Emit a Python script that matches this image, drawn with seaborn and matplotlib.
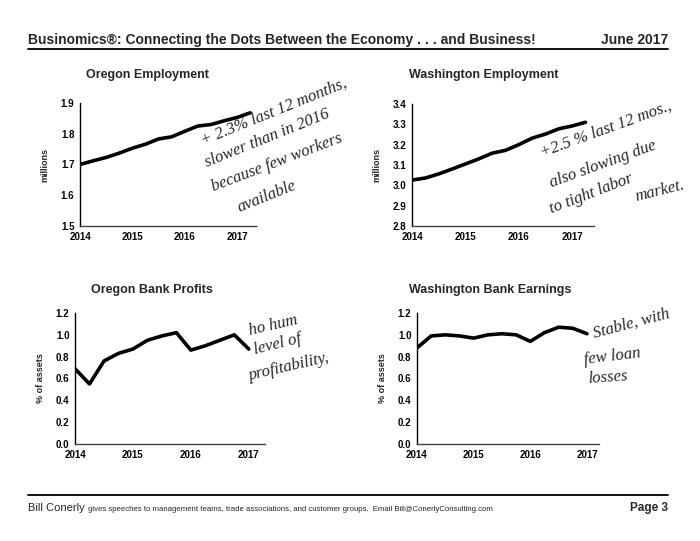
import matplotlib
matplotlib.use("Agg")
import matplotlib.pyplot as plt
from matplotlib.lines import Line2D
import seaborn as sns
import pandas as pd

# Quarterly points (year fractions)
emp_years = [2014.0, 2014.25, 2014.5, 2014.75, 2015.0, 2015.25, 2015.5,
             2015.75, 2016.0, 2016.25, 2016.5, 2016.75, 2017.0, 2017.25]
oregon_emp = [1.700, 1.712, 1.723, 1.737, 1.753, 1.766, 1.783,
              1.790, 1.808, 1.825, 1.830, 1.842, 1.853, 1.868]
washington_emp = [3.026, 3.036, 3.056, 3.080, 3.105, 3.130, 3.158,
                  3.172, 3.200, 3.232, 3.252, 3.278, 3.292, 3.310]

bank_years = [2014.0, 2014.25, 2014.5, 2014.75, 2015.0, 2015.25, 2015.5,
              2015.75, 2016.0, 2016.25, 2016.5, 2016.75, 2017.0]
oregon_bank = [0.69, 0.55, 0.76, 0.83, 0.87, 0.95, 0.99,
               1.02, 0.86, 0.90, 0.95, 1.00, 0.87]
washington_bank = [0.88, 0.99, 1.00, 0.99, 0.97, 1.00, 1.01,
                   1.00, 0.94, 1.02, 1.07, 1.06, 1.01]

year_ticks = [2014, 2015, 2016, 2017]

W, H = 700, 541
sns.set_style("white")
plt.rcParams["font.family"] = ["Liberation Sans", "DejaVu Sans"]

fig = plt.figure(figsize=(W / 100, H / 100), dpi=100)


def px_axes(left, right, top, bottom):
    return fig.add_axes([left / W, 1 - bottom / H, (right - left) / W, (bottom - top) / H])


def panel(ax, x, y, ylim, yticks, xmax, ylabel):
    df = pd.DataFrame({"x": x, "y": y})
    sns.lineplot(data=df, x="x", y="y", ax=ax, color="black", linewidth=2.6)
    ax.set_xlim(2014, xmax)
    ax.set_ylim(*ylim)
    ax.set_xticks(year_ticks)
    ax.set_xticklabels([str(t) for t in year_ticks])
    ax.set_yticks(yticks)
    ax.set_yticklabels(["{:.1f}".format(t) for t in yticks])
    ax.set_xlabel("")
    ax.set_ylabel(ylabel, fontsize=6.5, fontweight="bold", labelpad=8)
    for s in ["top", "right"]:
        ax.spines[s].set_visible(False)
    ax.spines["left"].set_color("black")
    ax.spines["left"].set_linewidth(1.0)
    ax.spines["bottom"].set_color("#444444")
    ax.spines["bottom"].set_linewidth(1.0)
    ax.spines["bottom"].set_linestyle((0, (1, 1)))
    ax.tick_params(axis="both", direction="inout", length=5, width=1,
                   labelsize=7, pad=1.5, colors="black")
    for lab in ax.get_xticklabels() + ax.get_yticklabels():
        lab.set_fontweight("bold")
    ax.set_facecolor("none")


ax1 = px_axes(80, 257, 103, 226)
panel(ax1, emp_years, oregon_emp, (1.5, 1.9), [1.5, 1.6, 1.7, 1.8, 1.9], 2017.38, "millions")
ax2 = px_axes(412, 594, 104, 226)
panel(ax2, emp_years, washington_emp, (2.8, 3.4), [2.8, 2.9, 3.0, 3.1, 3.2, 3.3, 3.4], 2017.41, "millions")
ax3 = px_axes(75, 265, 313, 444)
panel(ax3, bank_years, oregon_bank, (0, 1.2), [0, 0.2, 0.4, 0.6, 0.8, 1.0, 1.2], 2017.28, "% of assets")
ax4 = px_axes(417, 600, 313, 444)
panel(ax4, bank_years, washington_bank, (0, 1.2), [0, 0.2, 0.4, 0.6, 0.8, 1.0, 1.2], 2017.23, "% of assets")

# panel titles
for txt, cx, cy in [("Oregon Employment", 147, 75), ("Washington Employment", 484, 75),
                    ("Oregon Bank Profits", 152, 290), ("Washington Bank Earnings", 490, 290)]:
    fig.text(cx / W, 1 - cy / H, txt, ha="center", va="center", fontsize=9, fontweight="bold")

# header and footer
fig.text(28 / W, 1 - 44 / H, "Businomics\u00ae: Connecting the Dots Between the Economy . . . and Business!",
         fontsize=10, fontweight="bold", ha="left", va="baseline")
fig.text(668 / W, 1 - 44 / H, "June 2017", fontsize=10, fontweight="bold", ha="right", va="baseline")
fig.add_artist(Line2D([28 / W, 668 / W], [1 - 48.5 / H] * 2, color="black", linewidth=1.3))
fig.add_artist(Line2D([28 / W, 668 / W], [1 - 495 / H] * 2, color="black", linewidth=1.3))
bill = fig.text(28 / W, 1 - 511 / H, "Bill Conerly", fontsize=8, ha="left", va="baseline")
fig.canvas.draw()
bb = bill.get_window_extent().transformed(fig.transFigure.inverted())
fig.text(bb.x1 + 3 / W, 1 - 511 / H,
         "gives speeches to management teams, trade associations, and customer groups.  Email Bill@ConerlyConsulting.com",
         fontsize=5.6, ha="left", va="baseline")
fig.text(668 / W, 1 - 511 / H, "Page 3", fontsize=8.5, fontweight="bold", ha="right", va="baseline")

# handwritten notes
hand = dict(family=["Liberation Serif", "DejaVu Serif"], style="italic", fontsize=12,
            ha="left", va="baseline", rotation_mode="anchor")
notes = [
    ("+ 2.3% last 12 months,", 203, 145, 22),
    ("slower than in 2016", 207, 167, 22),
    ("because few workers", 214, 191, 21),
    ("available", 240, 212, 22),
    ("+2.5 % last 12 mos.,", 542, 157, 20),
    ("also slowing due", 552, 187, 20),
    ("to tight labor", 552, 213, 21),
    ("market.", 636, 201, 14),
    ("ho hum", 250, 335, 13),
    ("level of", 255, 354, 14),
    ("profitability,", 250, 380, 13),
    ("Stable, with", 594, 338, 15),
    ("few loan", 585, 364, 7),
    ("losses", 588, 383, 4),
]
for txt, x, y, rot in notes:
    fig.text(x / W, 1 - y / H, txt, rotation=rot, **hand)

fig.savefig("out.png", dpi=100)
